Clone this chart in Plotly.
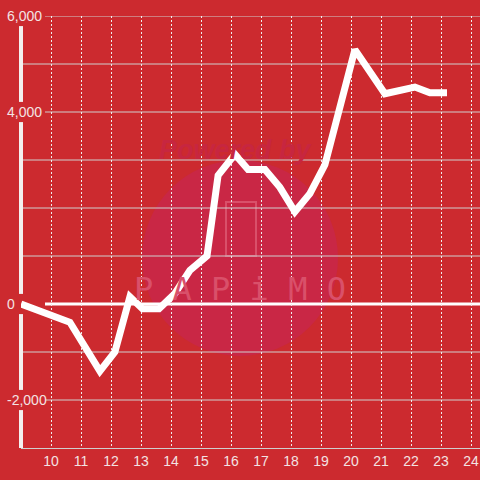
import plotly.graph_objects as go

# ---- data ----
hours = [9.0, 10.63, 11.63, 12.13, 12.63, 13.05, 13.6, 14.13, 14.63, 15.2, 15.57,
         16.13, 16.57, 17.13, 17.63, 18.13, 18.63, 19.13, 20.13, 21.13, 22.13, 22.63, 23.2]
values = [0, -380, -1400, -1000, 150, -100, -100, 220, 700, 1000, 2680,
          3120, 2800, 2800, 2430, 1920, 2300, 2900, 5300, 4380, 4520, 4400, 4400]
x_ticks = list(range(10, 25))
y_grid = [-3000, -2000, -1000, 0, 1000, 2000, 3000, 4000, 5000, 6000]
y_labels = [6000, 4000, 0, -2000]

BG = "#cc2a2f"
GRID = "#cfcfcf"
TXT = "#f3e3e3"

W, H = 480, 480
ML, MR, MT, MB = 21, 0, 16, 32
PW = W - ML - MR
PH = H - MT - MB

def px_x(p):  # pixel offset from plot-left to paper coordinate
    return p / PW

fig = go.Figure()

fig.add_trace(go.Scatter(x=hours, y=values, mode="lines",
                         line=dict(color="white", width=7),
                         hoverinfo="skip", showlegend=False))

shapes = []
# watermark circle
cx, cy, r = (240 - ML) / PW, (H - MB - 258) / PH, 98
shapes.append(dict(type="circle", xref="paper", yref="paper", layer="below",
                   x0=cx - r / PW, x1=cx + r / PW, y0=cy - r / PH, y1=cy + r / PH,
                   fillcolor="#c92745", line=dict(width=0)))
# phone icon
shapes.append(dict(type="rect", xref="paper", yref="paper", layer="below",
                   x0=(226 - ML) / PW, x1=(256 - ML) / PW,
                   y0=(H - MB - 256) / PH, y1=(H - MB - 202) / PH,
                   line=dict(color="#d9506a", width=2)))

# horizontal gridlines
for v in y_grid:
    start = px_x(24) if v in y_labels else 0
    if v == 0:
        shapes.append(dict(type="line", xref="paper", yref="y", layer="below",
                           x0=start, x1=1, y0=v, y1=v,
                           line=dict(color="white", width=3)))
    elif v != -3000:
        shapes.append(dict(type="line", xref="paper", yref="y", layer="below",
                           x0=start, x1=1, y0=v, y1=v,
                           line=dict(color=GRID, width=1)))

# y axis line with gaps at labels
gap = 210
bounds = sorted(y_labels)
segs = []
lo = -3000
for v in bounds:
    segs.append((lo, v - gap))
    lo = v + gap
for a, b in segs:
    if b > a:
        shapes.append(dict(type="line", xref="paper", yref="y", layer="below",
                           x0=0, x1=0, y0=a, y1=b,
                           line=dict(color="#f4efef", width=4)))

annotations = []
for v in y_labels:
    annotations.append(dict(xref="paper", yref="y", x=px_x(5 - ML), y=v,
                            xanchor="left", yanchor="middle", showarrow=False,
                            text=f"{v:,}", font=dict(size=14, color=TXT,
                                                     family="Liberation Sans, Arial")))
# watermark texts
annotations.append(dict(xref="paper", yref="paper", x=(236 - ML) / PW, y=(H - MB - 133) / PH,
                        text="<b><i>Powered by</i></b>", showarrow=False,
                        font=dict(size=27, color="#c72640",
                                  family="Liberation Sans, Arial")))
annotations.append(dict(xref="paper", yref="paper", x=(240 - ML) / PW, y=(H - MB - 289) / PH,
                        text="P A P i M O", showarrow=False,
                        font=dict(size=32, color="#d9506a",
                                  family="DejaVu Sans Mono, monospace")))

fig.update_layout(
    width=W, height=H,
    margin=dict(l=ML, r=MR, t=MT, b=MB),
    paper_bgcolor=BG, plot_bgcolor=BG,
    shapes=shapes, annotations=annotations,
    showlegend=False,
    xaxis=dict(range=[9, 24.3], tickvals=x_ticks, ticktext=[str(t) for t in x_ticks],
               showgrid=True, gridcolor="#eeeeee", gridwidth=1, griddash="2px,2px",
               showline=True, linecolor=GRID, linewidth=1, zeroline=False,
               ticks="", tickfont=dict(size=14, color=TXT, family="Liberation Sans, Arial"),
               fixedrange=True),
    yaxis=dict(range=[-3000, 6000], showgrid=False, zeroline=False,
               showticklabels=False, showline=False, ticks="", fixedrange=True),
)

fig.write_html("out.html", config={"displayModeBar": False},
               post_script="document.body.style.margin='0';document.body.style.padding='0';")
